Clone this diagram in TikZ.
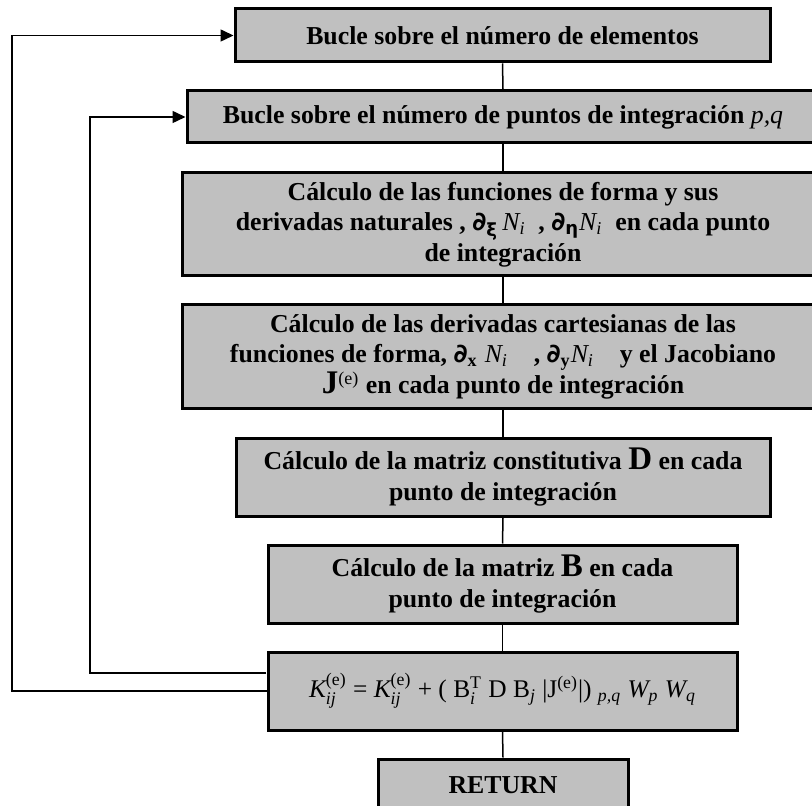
\documentclass[tikz,border=0pt]{standalone}
\usepackage{amsmath}
\usepackage{fontspec}
\setmainfont{Liberation Serif}
\newfontfamily\dvs[Scale=1.0]{DejaVu Sans}
\usetikzlibrary{arrows.meta}
\definecolor{cajagris}{HTML}{C0C0C0}

\newcommand{\supsub}[2]{\ensuremath{^{\text{#1}}_{\text{#2}}}}
\newcommand{\subs}[1]{\ensuremath{_{\text{#1}}}}
\newcommand{\parc}[1]{{\dvs ∂}\subs{#1}}
\newcommand{\Ni}{{\normalfont\itshape N}\subs{\normalfont\itshape i}}
\newcommand{\grande}[1]{{\fontsize{16.5}{15}\selectfont #1}}

\begin{document}
\begin{tikzpicture}[x=0.5pt,y=-0.5pt,
  caja/.style={draw, line width=1.5pt, fill=cajagris, align=center, inner sep=0pt,
    font=\fontsize{12.9}{15.2}\selectfont\bfseries},
  enlace/.style={line width=0.75pt},
  flecha/.style={line width=0.75pt, -{Triangle[length=6.5pt,width=6pt]}}]
\useasboundingbox (0,0) rectangle (812,806);

\node[caja, minimum width=267.5pt, minimum height=26.5pt] (b1) at (502.5,35.5)
  {Bucle sobre el número de elementos};
\node[caja, minimum width=316pt, minimum height=26pt] (b2) at (503,117)
  {Bucle sobre el número de puntos de integración {\normalfont\itshape p,q}};
\node[caja, minimum width=321pt, minimum height=51.5pt] (b3) at (503,224.5)
  {Cálculo de las funciones de forma y sus\\
   derivadas naturales , \parc{{\dvs ξ}}\,\Ni\ \ , \parc{{\dvs η}}\Ni\ \ en cada punto\\
   de integración};
\node[caja, minimum width=321pt, minimum height=51.5pt] (b4) at (503,356.5)
  {Cálculo de las derivadas cartesianas de las\\
   funciones de forma, \parc{x}\;\Ni\quad, \parc{y}\Ni\quad y el Jacobiano\\
   \grande{J}\textsuperscript{\normalfont(e)} en cada punto de integración};
\node[caja, minimum width=267pt, minimum height=39pt] (b5) at (503,477)
  {Cálculo de la matriz constitutiva \grande{D} en cada\\ punto de integración};
\node[caja, minimum width=234.5pt, minimum height=39pt] (b6) at (502.5,584)
  {Cálculo de la matriz \grande{B} en cada\\ punto de integración};
\node[caja, minimum width=234.5pt, minimum height=39pt, font=\fontsize{12.7}{15.2}\selectfont] (b7) at (502.5,691)
  {{\itshape K}\supsub{(e)}{\itshape ij} = {\itshape K}\supsub{(e)}{\itshape ij}
   + ( B\supsub{T}{\itshape i} D B\subs{\itshape j} |J\textsuperscript{(e)}|)
   \subs{\itshape p,q} {\itshape W}\subs{\itshape p} {\itshape W}\subs{\itshape q}};
\node[caja, minimum width=125pt, minimum height=26pt] (b8) at (503,785) {RETURN};

\foreach \a/\b in {b1/b2,b2/b3,b3/b4,b4/b5,b5/b6,b6/b7,b7/b8}
  \draw[enlace] (\a.south) -- (\b.north);

% lazos
\coordinate (interior) at (266,673);
\draw[flecha] (b7.west) -- (12,691) |- (b1.west);
\draw[flecha] (interior) -- (90,673) |- (b2.west);
\end{tikzpicture}
\end{document}
